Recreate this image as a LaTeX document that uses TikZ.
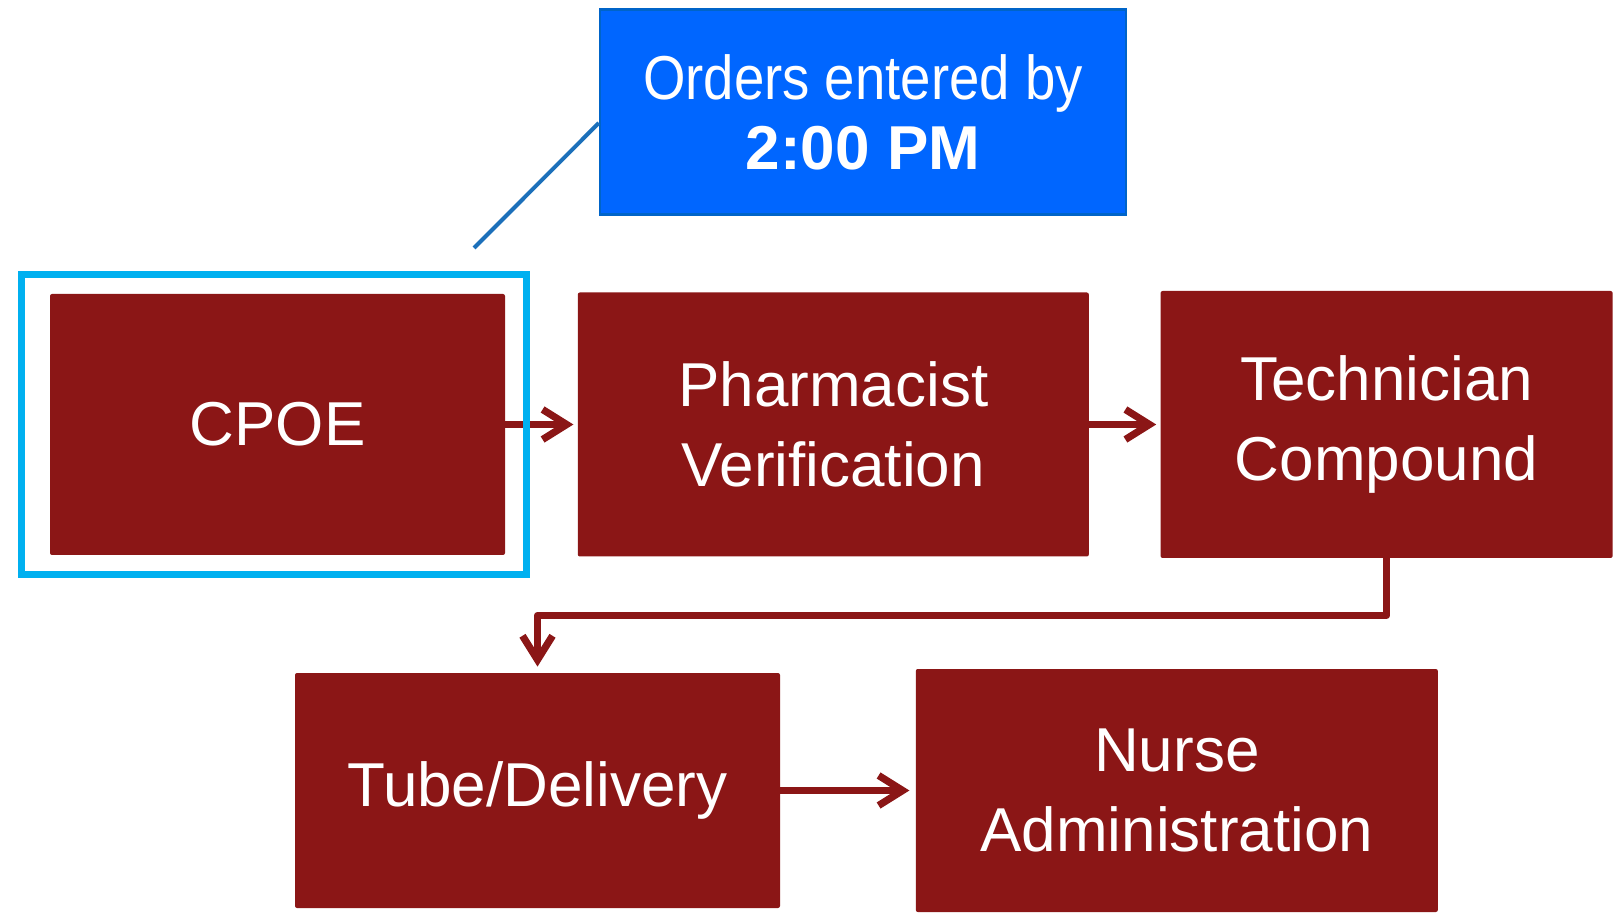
\documentclass[tikz,border=0pt]{standalone}
\usepackage{graphicx}
\usepackage{fontspec}
\setmainfont{Liberation Sans}
\usetikzlibrary{positioning,arrows.meta}
\definecolor{maroon}{RGB}{139,22,22}
\definecolor{orderblue}{RGB}{0,102,255}
\definecolor{orderedge}{RGB}{0,100,200}
\definecolor{framecyan}{RGB}{0,176,240}
\definecolor{calloutblue}{RGB}{28,112,186}

\begin{document}
\begin{tikzpicture}[x=0.5pt,y=-0.5pt,
  stepbox/.style={fill=maroon,text=white,rounded corners=1pt,align=center,
    inner sep=0pt,font=\fontsize{31}{40}\selectfont},
  flow/.style={draw=maroon,line width=3.6pt,line cap=round,line join=round,
    -{Straight Barb[length=12pt,width=15pt]}},
  ]
  \useasboundingbox (0,0) rectangle (1622,924);
  \node[stepbox,minimum width=227.5pt,minimum height=130.5pt] (cpoe) at (277.5,424.5) {CPOE};
  \node[stepbox,minimum width=255.5pt,minimum height=132pt,right=36pt of cpoe] (pharm) {Pharmacist\\Verification};
  \node[stepbox,minimum width=226pt,minimum height=133.5pt,right=35.5pt of pharm] (tech) {Technician\\Compound};
  \node[stepbox,minimum width=242.5pt,minimum height=117.5pt] (tube) at (537.5,790.5) {Tube/Delivery};
  \node[stepbox,minimum width=261pt,minimum height=121.5pt,right=67.5pt of tube] (nurse) {Nurse\\Administration};
  \node[fill=orderblue,draw=orderedge,line width=1.2pt,text=white,align=center,
    minimum width=263pt,minimum height=102.5pt,inner sep=0pt,
    font=\fontsize{31}{35}\selectfont] (orders) at (863,112)
    {\scalebox{0.88}[1]{Orders entered by}\\\textbf{2:00 PM}};
  \coordinate (tail) at (474,248);

  \draw[calloutblue,line width=2pt] ([yshift=-5.5pt]orders.west) -- (tail);
  \draw[flow,shorten >=2pt] (cpoe) -- (pharm);
  \draw[flow,shorten >=2pt] (pharm) -- (tech);
  \draw[flow,shorten >=3pt] (tech.south) -- ++(0,57) -| (tube.north);
  \draw[flow,shorten >=3pt] (tube) -- (nurse);

  \node[draw=framecyan,line width=3.6pt,minimum width=252.5pt,minimum height=150pt,
    inner sep=0pt] (focus) at (274,424.5) {};
\end{tikzpicture}
\end{document}
